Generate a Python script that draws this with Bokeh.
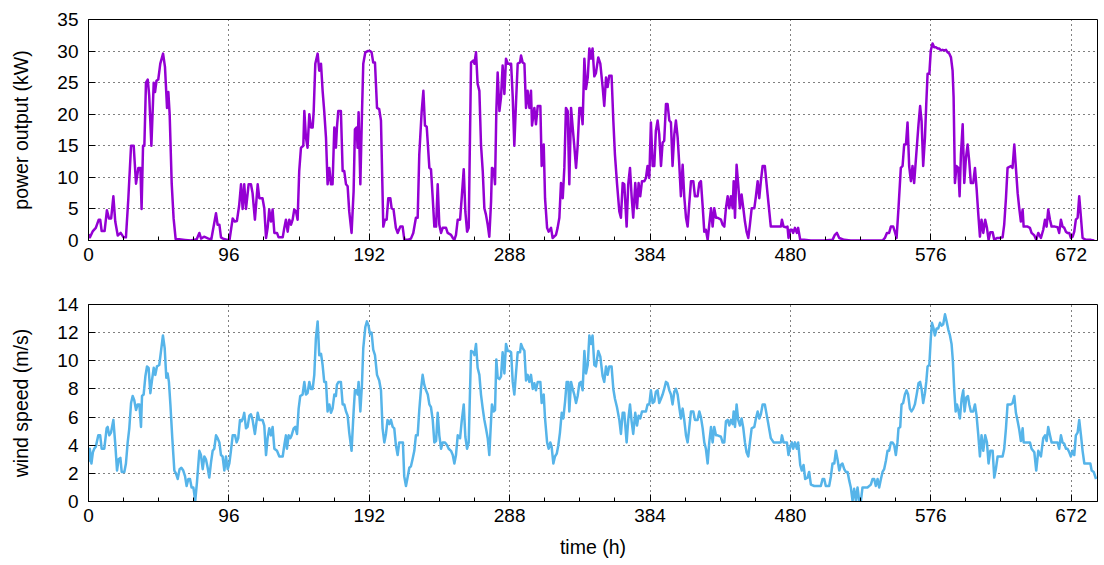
from bokeh.plotting import figure
from bokeh.layouts import column
from bokeh.models import Range1d, FixedTicker
from bokeh.embed import file_html
from bokeh.resources import INLINE

# ---- data (hour, value) ----
power_samples = [
    (0, 1.0), (1, 0.5), (3, 1.5), (5, 2.0), (7, 3.3), (8, 3.3), (9, 1.5), (11, 1.5), (12.6, 4.8), (14, 3.5),
    (15.5, 3.5), (17, 7.0), (18.3, 3.0), (20, 0.8), (22, 1.2), (24, 0.5), (25.6, 0.5), (27.2, 6.5), (29.1, 15.0), (30.9, 15.0),
    (32.5, 9.0), (34.1, 11.5), (35.5, 11.5), (36.3, 5.0), (37.3, 15.0), (38.2, 15.0), (39.3, 25.0), (40.5, 25.5), (41.5, 23.0), (43, 15.0),
    (44.6, 25.0), (45.5, 23.5), (46.5, 25.3), (47.7, 25.5), (49.1, 28.0), (51, 29.6), (52.3, 27.5), (53.7, 21.0), (54.6, 23.5), (55.5, 20.0),
    (56.9, 9.0), (58.2, 3.5), (59.6, 0.2), (62, 0.2), (66, 0.1), (70, 0.0), (74, 0.2), (75.8, 1.2), (77, 0.3), (79, 0.6),
    (82, 0.3), (84, 0.2), (85, 1.5), (87.2, 4.3), (88.3, 2.5), (89.5, 2.5), (90.6, 0.5), (92, 0.3), (95, 0.1), (96.5, 0.2),
    (98.6, 3.5), (100, 3.0), (101.5, 3.1), (103, 5.5), (104.3, 8.9), (105.4, 5.0), (106.5, 8.9), (107.7, 5.0), (109.5, 8.9), (111.1, 8.9),
    (112.2, 7.5), (113.8, 3.3), (115.7, 8.9), (116.8, 6.7), (119, 6.7), (120.2, 5.1), (121.4, 0.4), (122.5, 2.0), (123.6, 4.9), (124.8, 3.0),
    (125.9, 4.9), (127.1, 1.2), (128.9, 1.2), (130, 0.5), (132.8, 0.5), (133.9, 2.0), (135, 3.3), (136.2, 1.4), (137.3, 3.3), (138.5, 2.5),
    (139.6, 3.3), (140.7, 4.9), (141.9, 4.6), (143, 3.3), (144.1, 11.0), (145.3, 14.7), (146.9, 15.0), (147.6, 20.5), (148.7, 16.3), (149.8, 14.7),
    (151, 20.0), (152.1, 17.9), (153.3, 17.9), (154, 20.5), (155.1, 28.0), (156.7, 29.6), (157.8, 26.9), (159, 28.0), (160.1, 23.7), (161.2, 20.5),
    (162.4, 16.3), (163.5, 8.9), (164.7, 11.5), (165.8, 8.9), (166.9, 8.9), (168.1, 17.9), (169.2, 14.7), (169.9, 17.9), (170.8, 20.5), (172.6, 20.5),
    (173.8, 11.0), (174.9, 11.0), (176.1, 8.9), (177.2, 8.6), (178.3, 4.6), (179.9, 1.2), (181.3, 7.8), (182.2, 17.6), (183.4, 17.9), (184, 14.7),
    (184.7, 20.3), (185.9, 8.9), (187, 20.0), (187.9, 28.0), (189.3, 29.8), (190.9, 30.0), (192.5, 30.0), (193.6, 29.8), (194.7, 28.2), (195.9, 28.2),
    (197.3, 21.0), (198.8, 20.8), (200, 19.0), (201.6, 2.2), (202.7, 3.3), (203.9, 3.3), (205, 6.7), (206.4, 6.7), (207.3, 5.1), (208.6, 4.9),
    (210.2, 2.0), (211.4, 1.2), (213.2, 2.2), (214.8, 2.2), (216, 0.1), (218.2, 0.1), (220.5, 0.3), (222.1, 1.2), (223.9, 3.6), (225.1, 3.6),
    (226.2, 13.6), (227.8, 20.3), (229, 23.7), (230.1, 18.2), (231.3, 18.0), (233.1, 11.5), (234.2, 11.3), (235.4, 6.7), (236.5, 2.2), (237.7, 2.2),
    (238.8, 8.9), (239.9, 2.5), (241.1, 1.2), (242.2, 2.0), (244.5, 2.0), (245.6, 1.2), (247.9, 0.9), (249.1, 0.4), (250.2, 0.1), (251.3, 0.9),
    (252.5, 3.3), (254.1, 3.3), (255.2, 6.7), (256.6, 11.3), (257.7, 4.6), (258.9, 1.4), (260, 2.0), (261.6, 28.2), (263.2, 28.5), (263.9, 28.0),
    (265, 29.8), (266.1, 24.8), (267.3, 23.7), (268.4, 15.2), (269.6, 11.0), (270.7, 5.1), (271.8, 4.1), (273, 2.5), (274.1, 0.6), (275.3, 6.2),
    (275.9, 11.5), (277.1, 11.3), (278, 8.9), (278.9, 20.5), (279.8, 26.6), (281, 20.5), (282.1, 22.7), (283.2, 27.7), (284.4, 23.2), (285.5, 28.8),
    (286.7, 28.0), (287.8, 28.0), (289, 28.0), (290.1, 22.7), (291.2, 15.0), (292.4, 22.1), (293.5, 28.0), (295.1, 28.2), (295.8, 29.3), (296.9, 28.2),
    (298.1, 28.0), (299.2, 21.0), (300.3, 23.7), (301.5, 21.0), (302.6, 23.7), (303.3, 18.2), (304.9, 21.0), (306, 18.4), (307.2, 21.3), (309, 21.3),
    (309.9, 11.8), (311.3, 15.2), (312.2, 6.7), (313.6, 2.0), (314.7, 1.4), (316.3, 2.0), (317.4, 0.4), (319.7, 0.9), (320.8, 2.0), (322, 3.6),
    (323.1, 9.1), (324.3, 6.7), (325.4, 11.5), (326.5, 21.0), (327.7, 20.5), (328.8, 8.9), (330, 21.0), (331.1, 17.9), (332.2, 15.0), (333.4, 11.5),
    (334.5, 15.0), (335.7, 21.0), (336.8, 21.0), (337.9, 18.4), (339.1, 28.8), (340.2, 24.0), (341.4, 25.8), (342.5, 30.4), (343.6, 28.8), (344.7, 30.4),
    (345.9, 26.0), (347, 26.5), (348.6, 29.0), (350, 28.0), (351.6, 24.3), (352.7, 21.3), (353.9, 25.8), (355, 24.3), (356.1, 26.1), (357.7, 26.1),
    (358.9, 19.0), (360, 13.6), (361.4, 9.1), (363, 4.6), (364.1, 3.6), (365.3, 9.1), (366.4, 8.9), (368, 2.2), (369.1, 8.9), (370.3, 11.5),
    (371.4, 7.0), (372.5, 3.6), (373.9, 9.1), (375.1, 5.1), (376.2, 9.1), (377.3, 7.0), (378.5, 9.4), (380.1, 9.4), (381.2, 9.9), (382.3, 11.8),
    (383.5, 9.9), (384.6, 18.7), (385.8, 11.8), (386.9, 11.8), (388, 17.4), (389.2, 19.0), (390.3, 16.8), (391.5, 11.8), (392.6, 15.5), (393.7, 15.8),
    (394.9, 21.6), (396, 21.6), (397.2, 19.0), (398.3, 18.7), (399.4, 11.8), (400.6, 16.8), (401.7, 19.0), (402.9, 16.3), (404, 12.0), (405.1, 7.0),
    (406.3, 12.0), (407.4, 7.0), (408.6, 3.6), (409.7, 2.2), (410.8, 5.7), (412, 9.4), (413.6, 9.4), (414.7, 7.0), (416.5, 7.0), (417.7, 9.1),
    (418.8, 9.4), (420, 5.4), (421.1, 1.4), (422.2, 1.7), (423.4, 0.1), (424.5, 2.5), (425.7, 5.1), (426.8, 2.2), (427.9, 5.1), (429.1, 3.6),
    (430.2, 3.6), (432.5, 3.3), (433.6, 2.5), (434.8, 2.2), (435.9, 5.1), (437.1, 7.0), (438.2, 5.1), (439.3, 7.0), (440.5, 5.1), (441.2, 9.4),
    (442.1, 3.6), (443.2, 12.0), (444.3, 8.9), (445.5, 5.1), (446.6, 7.3), (447.8, 5.1), (448.9, 3.0), (450, 1.4), (451.2, 0.4), (452.3, 2.5),
    (453.5, 5.1), (455.3, 5.1), (456.4, 7.0), (457.6, 9.4), (458.7, 6.7), (459.8, 9.4), (461, 11.8), (462.5, 11.8), (464.4, 7.3), (466.6, 2.2),
    (468.9, 2.2), (471.2, 2.2), (473.5, 2.2), (474.2, 3.3), (475.3, 2.2), (476.9, 2.1), (478, 2.2), (478.7, 0.4), (479.9, 1.7), (481, 1.7),
    (481.9, 1.2), (483.1, 2.0), (484.4, 1.2), (485.3, 2.0), (486.7, 0.1), (489.4, 0.1), (494, 0.0), (503.1, 0.0), (508.8, 0.1), (510.4, 0.9),
    (511.8, 1.2), (513.4, 0.4), (516.8, 0.1), (521.3, 0.0), (528.2, 0.0), (535, 0.0), (543, 0.0), (544.6, 0.4), (546, 1.2), (547.5, 1.2),
    (548.7, 2.2), (550.3, 2.2), (551.4, 1.4), (552.6, 0.4), (553.9, 5.1), (555.5, 11.5), (556.7, 11.8), (557.8, 15.2), (559, 15.2), (560.1, 18.7),
    (561.2, 11.8), (562.4, 9.4), (563.5, 11.8), (564.6, 9.1), (566.5, 15.0), (567.6, 18.4), (568.7, 21.3), (569.7, 18.9), (570.8, 11.8), (572, 16.3),
    (572.9, 21.6), (573.8, 26.4), (575, 26.4), (576, 30.1), (577.2, 31.2), (578.3, 30.6), (579.5, 30.6), (580.7, 30.4), (581.8, 30.4), (583, 30.1),
    (584.1, 30.2), (585.3, 30.1), (586.4, 30.2), (587.5, 29.8), (588.6, 29.6), (589.8, 29.0), (590.9, 26.9), (591.6, 22.7), (592.5, 9.1), (593.6, 11.8),
    (594.8, 11.5), (595.7, 7.0), (596.6, 13.6), (597.8, 18.4), (598.9, 9.1), (600, 13.0), (601.2, 15.2), (602.3, 12.5), (603.4, 9.1), (605, 9.1),
    (606.2, 11.5), (607.3, 8.3), (608.5, 4.1), (609.6, 0.6), (610.7, 3.3), (611.9, 1.2), (613.2, 3.3), (614.4, 2.0), (615.5, 0.1), (616.7, 1.3),
    (618.3, 1.3), (619.4, 0.1), (621.2, 0.4), (622.8, 0.4), (625.1, 0.5), (626.2, 2.5), (627.4, 6.7), (628.5, 11.5), (630.8, 11.8), (631.9, 11.5),
    (633.1, 15.2), (634.2, 11.5), (635.4, 7.5), (636.5, 5.1), (637.6, 3.0), (638.8, 4.9), (639.5, 2.2), (640.6, 2.2), (642.2, 2.2), (643.8, 2.0),
    (644.9, 1.2), (646.8, 0.8), (648.1, 0.1), (649.5, 1.2), (651.3, 0.4), (652.9, 1.7), (654.1, 3.3), (655.2, 2.2), (656.3, 4.9), (657.5, 3.3),
    (658.6, 2.2), (660.9, 2.2), (662.7, 2.1), (663.8, 1.2), (665, 3.3), (666.1, 2.2), (667.3, 2.0), (668.4, 1.4), (669.5, 1.2), (670.7, 1.2),
    (671.8, 0.4), (673, 0.6), (674.1, 1.4), (675.2, 3.3), (676.4, 3.6), (677.5, 7.0), (678.7, 3.6), (679.8, 0.4), (682.1, 0.1), (685.5, 0.1), (687.8, 0.0),
]

wind_samples = [
    (0, 2.8), (0.9, 3.75), (2, 2.7), (3, 3.5), (3.9, 3.75), (5, 3.9), (6.7, 4.7), (8, 4.7), (9, 3.75), (10.8, 3.75),
    (12.4, 5.2), (13.1, 5.3), (14.2, 4.7), (15.4, 4.9), (17, 5.8), (18.3, 4.1), (19.5, 2.2), (20.6, 3.0), (21.8, 3.1), (22.7, 2.1),
    (24.5, 2.1), (25.6, 2.7), (26.8, 4.2), (27.9, 5.2), (29.1, 7.0), (30.2, 7.5), (31.3, 7.2), (32.5, 6.5), (33.6, 6.9), (34.8, 6.9),
    (35.9, 5.3), (36.6, 7.5), (37.7, 7.6), (38.9, 8.9), (40, 9.6), (41.1, 9.5), (42.3, 7.7), (43.4, 8.6), (44.6, 9.5), (45.7, 9.0),
    (46.8, 9.6), (48.4, 9.7), (49.6, 10.7), (50.9, 11.8), (52.1, 10.9), (53.2, 8.8), (54.1, 9.1), (55, 8.5), (56, 6.9), (57.3, 4.5),
    (58.7, 2.2), (59.8, 2.0), (61, 1.6), (62.3, 2.3), (63.5, 2.4), (64.8, 2.2), (66, 1.8), (67.1, 1.1), (68.3, 1.6), (69.4, 1.6),
    (70.5, 1.0), (71.7, 1.0), (73, 0.05), (74.2, 1.4), (75.8, 3.6), (76.9, 3.3), (78.1, 2.3), (79.2, 3.2), (80.3, 3.0), (81.5, 2.4),
    (82.6, 1.7), (83.8, 2.8), (84.9, 3.6), (86, 3.75), (87.2, 4.7), (88.3, 4.5), (89.5, 4.2), (90.6, 3.3), (91.7, 3.2), (92.9, 2.2),
    (94, 3.2), (95.2, 2.3), (96.3, 2.7), (97.4, 3.6), (98.6, 4.7), (100.2, 4.7), (101.3, 4.2), (102.4, 4.5), (103.6, 5.8), (104.7, 5.7),
    (105.9, 6.0), (106.5, 6.3), (107.7, 5.2), (108.8, 5.3), (110, 6.1), (111.1, 6.2), (112.2, 5.8), (113.8, 4.8), (115.7, 6.3), (116.8, 5.8),
    (119, 5.8), (120.2, 5.4), (121.4, 3.3), (122.5, 4.5), (123.6, 5.2), (124.8, 4.7), (125.9, 5.3), (127.1, 3.75), (128.9, 3.6), (130.5, 3.2),
    (132.8, 3.2), (133.9, 4.0), (135, 4.7), (135.7, 3.75), (136.9, 4.7), (138, 4.5), (138.9, 4.7), (140.3, 5.2), (141.4, 5.3), (142.6, 4.8),
    (143.7, 6.6), (144.8, 7.5), (146.4, 7.6), (147.6, 8.5), (148.7, 7.6), (149.8, 7.7), (151, 8.5), (152.1, 8.0), (153.3, 8.0), (154.4, 9.0),
    (155.5, 11.6), (156.7, 12.8), (157.8, 10.4), (159, 10.5), (160.1, 9.7), (161.2, 8.5), (162.4, 8.5), (163.5, 6.4), (164.7, 6.9), (165.8, 6.3),
    (166.9, 6.6), (168.1, 7.6), (169.2, 7.5), (169.9, 8.3), (171, 8.5), (172.6, 8.5), (173.8, 6.9), (174.9, 6.9), (176.1, 6.4), (177.2, 6.1),
    (178.3, 4.9), (179.9, 3.6), (181.3, 6.4), (182.2, 7.9), (183.4, 7.9), (184, 7.6), (184.7, 8.5), (185.9, 6.4), (187, 8.3), (187.9, 10.9),
    (189.3, 12.4), (190.4, 12.8), (191.5, 12.5), (192.5, 11.9), (193.6, 12.0), (194.7, 10.8), (195.9, 10.4), (197.3, 9.0), (198.8, 8.6), (200, 7.9),
    (201.1, 5.2), (202.3, 4.2), (203.4, 4.8), (204.5, 5.8), (205.7, 5.5), (206.8, 5.8), (208, 5.3), (209.1, 5.2), (210.2, 4.0), (211.4, 3.3),
    (212.5, 4.2), (214.1, 4.2), (215, 4.2), (215.9, 1.8), (217.1, 1.1), (218.2, 1.7), (219.4, 2.4), (220.5, 2.5), (221.6, 3.0), (222.8, 3.6),
    (223.9, 4.7), (225.1, 4.7), (226.2, 6.5), (227.3, 7.9), (228.5, 9.0), (229.6, 8.3), (230.8, 7.9), (232, 7.6), (233.1, 6.9), (234.2, 6.7),
    (235.4, 5.8), (236.5, 4.2), (237.7, 4.3), (238.8, 6.3), (239.9, 4.7), (241.1, 3.75), (242.2, 4.2), (243.8, 4.2), (245.2, 4.0), (246.3, 3.75),
    (247.9, 3.6), (249.1, 3.3), (250.2, 2.7), (251.3, 3.3), (252.5, 4.7), (254.1, 4.5), (255.2, 5.7), (256.6, 6.9), (257.7, 4.6), (258.9, 3.75),
    (260, 4.2), (261.6, 10.7), (263.2, 10.6), (263.9, 10.4), (265, 11.2), (266.1, 9.5), (267.3, 9.0), (268.4, 7.6), (269.6, 6.6), (270.7, 5.8),
    (271.8, 5.2), (273, 4.5), (274.1, 3.3), (275.3, 5.8), (275.9, 6.9), (277.1, 6.4), (278, 6.5), (278.9, 10.1), (279.8, 8.8), (281, 8.7),
    (282.1, 8.9), (283.2, 10.6), (284.4, 9.1), (285.5, 11.2), (286.7, 10.7), (287.8, 10.7), (289, 10.6), (290.1, 8.5), (291.2, 7.6), (292.4, 9.2),
    (293.5, 10.6), (295.1, 10.6), (295.8, 11.2), (296.9, 10.9), (298.1, 10.7), (299.2, 8.6), (300.3, 9.0), (301.5, 8.5), (302.6, 9.0), (303.8, 8.0),
    (304.9, 8.4), (306, 7.9), (307.2, 8.5), (309, 8.5), (309.9, 7.0), (311.3, 7.6), (312.2, 5.9), (313.6, 4.2), (314.7, 3.75), (315.8, 4.2),
    (316.7, 3.9), (317.9, 2.7), (319, 3.2), (320.2, 3.4), (321.3, 4.0), (322.4, 4.9), (323.6, 6.3), (324.7, 5.9), (325.9, 7.1), (327, 8.5),
    (328.1, 8.5), (328.8, 6.4), (330, 8.5), (331.1, 8.0), (332.2, 7.6), (333.4, 7.0), (334.5, 7.5), (335.7, 8.4), (336.8, 8.5), (337.9, 7.9),
    (339.1, 10.7), (340.2, 9.1), (341.4, 9.7), (342.5, 11.8), (343.6, 11.2), (344.7, 11.8), (345.9, 9.7), (347, 9.6), (348.6, 10.7), (350, 10.3),
    (351.6, 8.9), (352.7, 8.5), (353.9, 9.6), (355, 9.0), (356.1, 9.6), (357.7, 9.6), (358.9, 8.0), (360, 7.3), (361.4, 6.7), (363, 5.8),
    (364.1, 4.8), (365.3, 6.3), (366.4, 6.3), (368, 4.2), (369.1, 5.8), (370.3, 6.9), (371.4, 5.7), (372.5, 4.8), (373.9, 6.3), (375.1, 5.4),
    (376.2, 6.1), (377.3, 5.9), (378.5, 6.4), (380.1, 6.4), (381.2, 6.4), (382.3, 6.9), (383.5, 6.9), (384.6, 7.9), (385.8, 7.0), (386.9, 7.1),
    (388, 7.8), (389.2, 7.9), (390.3, 7.0), (391.5, 7.3), (392.6, 7.6), (393.7, 8.0), (394.9, 8.5), (396, 8.4), (397.2, 7.9), (398.3, 7.6),
    (399.4, 6.9), (400.6, 7.8), (401.7, 8.0), (402.9, 7.6), (404, 6.7), (405.1, 5.9), (406.3, 6.6), (407.4, 5.8), (408.6, 4.7), (409.7, 4.2),
    (410.8, 5.2), (412, 6.4), (413.6, 6.4), (414.7, 5.8), (416.5, 5.8), (417.7, 6.4), (418.8, 6.0), (420, 5.2), (421.1, 4.2), (422.2, 3.75),
    (423.4, 2.7), (424.5, 4.2), (425.7, 5.3), (426.8, 4.2), (427.9, 5.3), (429.1, 4.7), (430.2, 4.7), (432.5, 4.6), (433.6, 4.2), (434.8, 4.2),
    (435.9, 5.7), (437.1, 5.8), (438.2, 5.4), (439.3, 5.8), (440.5, 5.5), (441.2, 6.4), (442.1, 5.3), (443.2, 6.9), (444.3, 5.8), (445.5, 5.4),
    (446.6, 5.9), (447.8, 5.2), (448.9, 4.2), (450, 3.5), (451.2, 3.2), (452.3, 4.2), (453.5, 5.2), (455.3, 5.3), (456.4, 5.9), (457.6, 6.4),
    (458.7, 5.9), (459.8, 6.2), (461, 6.9), (462.5, 6.9), (464.4, 5.8), (466.6, 4.5), (468.5, 4.2), (471.2, 4.2), (473.5, 4.2), (474.2, 4.7),
    (475.3, 4.2), (477.6, 4.2), (478.7, 3.3), (479.9, 3.9), (481, 4.2), (481.9, 3.75), (483.1, 4.2), (484.4, 3.75), (485.3, 4.2), (486.7, 2.6),
    (487.8, 2.2), (489, 2.6), (490.1, 1.6), (491.7, 1.7), (492.8, 2.1), (494, 1.2), (496.3, 1.1), (498.5, 1.1), (500.8, 1.1), (502, 1.6),
    (503.1, 1.6), (504.2, 1.1), (506.5, 1.1), (507.7, 1.8), (508.8, 2.7), (510, 2.7), (511.1, 3.6), (512.2, 3.0), (513.4, 2.2), (514.5, 2.6),
    (515.6, 2.7), (516.8, 2.3), (517.9, 2.1), (519.1, 2.1), (520.2, 1.5), (521.3, 1.0), (522.5, 0.05), (523.6, 0.9), (524.8, 0.05), (525.9, 1.0),
    (527, 0.05), (528.2, 0.05), (529.3, 1.0), (530.5, 1.0), (532.7, 1.0), (535, 1.2), (536.2, 1.6), (537.3, 1.6), (538.4, 1.1), (539.6, 1.6),
    (540.7, 1.0), (541.9, 1.6), (543, 2.1), (544.1, 2.3), (545.3, 2.9), (546.4, 3.6), (547.5, 3.6), (548.7, 4.2), (549.8, 4.2), (551, 4.0),
    (552.1, 3.3), (553.2, 4.2), (553.9, 5.2), (555.1, 5.3), (556, 6.9), (557.1, 7.0), (558.3, 7.6), (559.4, 7.9), (560.5, 7.6), (561.7, 6.6),
    (562.8, 6.4), (564, 6.6), (565.1, 6.9), (566.5, 7.7), (567.6, 8.4), (568.7, 8.5), (569.7, 8.0), (570.8, 7.0), (572, 7.7), (572.9, 8.5),
    (573.8, 9.6), (575, 9.7), (576, 11.6), (576.8, 12.7), (577.9, 12.3), (578.8, 11.8), (580, 12.3), (581.1, 12.3), (582.3, 12.7), (583.4, 12.5),
    (584.5, 12.6), (585.7, 13.3), (586.8, 12.8), (588, 12.2), (589.1, 11.8), (590.2, 11.2), (591.1, 10.0), (592, 8.0), (593, 6.4), (593.9, 6.9),
    (594.8, 6.5), (595.9, 5.9), (597.1, 7.3), (598.2, 7.9), (599.1, 6.4), (600.3, 7.4), (601.4, 7.5), (602.3, 6.9), (603.4, 6.4), (605, 6.4),
    (606.2, 6.9), (607.3, 6.1), (608.5, 4.7), (609.6, 3.2), (610.7, 4.7), (611.9, 3.6), (613.2, 4.7), (614.4, 4.2), (615.5, 2.7), (616.7, 3.6),
    (618.3, 3.6), (619.4, 1.7), (620.5, 2.3), (621.7, 3.2), (622.8, 3.2), (625.1, 3.2), (626.2, 3.75), (627.4, 5.2), (628.5, 6.9), (630.8, 6.9),
    (631.9, 7.0), (633.1, 7.5), (634.2, 6.3), (635.4, 5.7), (636.5, 5.1), (637.6, 4.3), (638.8, 5.2), (639.5, 4.2), (640.6, 4.2), (642.2, 4.2),
    (643.8, 4.2), (644.9, 3.75), (646.8, 3.5), (648.1, 2.2), (649.5, 3.6), (651.3, 3.2), (652.9, 4.5), (654.1, 4.7), (655.2, 4.3), (656.3, 5.3),
    (657.5, 4.7), (658.6, 4.2), (660.9, 4.2), (662.7, 4.2), (663.8, 3.75), (665, 4.7), (666.1, 4.2), (667.3, 4.1), (668.4, 3.75), (669.5, 3.75),
    (670.7, 3.5), (671.8, 3.2), (673, 3.6), (674.1, 3.3), (675.2, 4.7), (676.4, 4.9), (677.5, 5.8), (678.7, 4.7), (679.8, 3.6), (681, 2.7),
    (683.3, 2.7), (685.1, 2.7), (686, 2.2), (687.4, 2.1), (689, 1.6),
]

power_hours = [h for h, _ in power_samples]
power_kw = [v for _, v in power_samples]
wind_hours = [h for h, _ in wind_samples]
wind_ms = [v for _, v in wind_samples]

x_major_ticks = [0, 96, 192, 288, 384, 480, 576, 672]
x_minor_ticks = [24, 48, 72, 120, 144, 168, 216, 240, 264, 312, 336, 360,
                 408, 432, 456, 504, 528, 552, 600, 624, 648]
power_ticks = [0, 5, 10, 15, 20, 25, 30, 35]
wind_ticks = [0, 2, 4, 6, 8, 10, 12, 14]

FONT = "Liberation Sans"


def make_fig(height, top, bottom, ymax, yticks, ylabel, xlabel=None):
    p = figure(width=1104, height=height, x_range=Range1d(0, 690), y_range=Range1d(0, ymax),
               output_backend="svg", toolbar_location=None,
               min_border_left=88, min_border_right=7, min_border_top=top, min_border_bottom=bottom)
    p.outline_line_color = "black"
    p.outline_line_alpha = 1.0
    p.outline_line_width = 1
    p.xaxis.ticker = FixedTicker(ticks=x_major_ticks, minor_ticks=x_minor_ticks)
    p.yaxis.ticker = FixedTicker(ticks=yticks, minor_ticks=[])
    for ax in p.axis:
        ax.axis_line_color = "black"
        ax.major_tick_line_color = "black"
        ax.minor_tick_line_color = "black"
        ax.major_tick_in = 7
        ax.major_tick_out = 0
        ax.minor_tick_in = 4
        ax.minor_tick_out = 0
        ax.major_label_text_font = FONT
        ax.major_label_text_font_size = "19px"
        ax.major_label_text_color = "black"
        ax.axis_label_text_font = FONT
        ax.axis_label_text_font_size = "19.5px"
        ax.axis_label_text_font_style = "normal"
        ax.axis_label_text_color = "black"
    p.xaxis.major_label_standoff = 7
    p.yaxis.major_label_standoff = 10
    p.yaxis.axis_label = ylabel
    p.yaxis.axis_label_standoff = 22
    if xlabel:
        p.xaxis.axis_label = xlabel
        p.xaxis.axis_label_standoff = 11
    p.grid.grid_line_color = "black"
    p.grid.grid_line_dash = "1 4"
    p.grid.grid_line_width = 1
    p.grid.grid_line_alpha = 1.0
    p.background_fill_color = "white"
    p.border_fill_color = "white"
    return p


p1 = make_fig(280, 19, 40, 35, power_ticks, "power output (kW)")
p1.line(power_hours, power_kw, line_color="#9400D3", line_width=2.5, line_join="round")

p2 = make_fig(285, 24, 64, 14, wind_ticks, "wind speed (m/s)", "time (h)")
p2.line(wind_hours, wind_ms, line_color="#56B4E9", line_width=2.5, line_join="round")

layout = column(p1, p2, spacing=0)
open("out.html", "w").write(file_html(layout, INLINE))
